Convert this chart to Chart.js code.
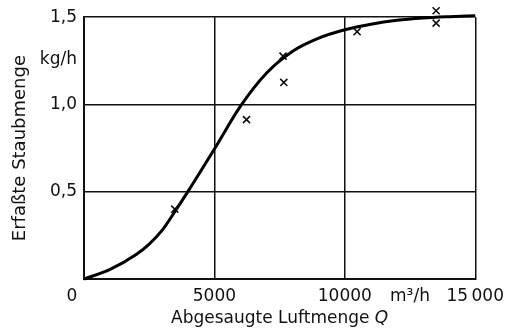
<!DOCTYPE html>
<html lang="de">
<head>
<meta charset="UTF-8">
<title>Erfaßte Staubmenge</title>
<script src="https://cdn.jsdelivr.net/npm/chart.js"></script>
<style>
  body { margin: 0; background: #fff; }
  #wrap { width: 511px; height: 330px; position: relative; }
</style>
</head>
<body>
<div id="wrap"><canvas id="chart"></canvas></div>
<script>
  // fitted curve
  const curveQ = [0, 1000, 2000, 2500, 3000, 3500, 4000, 5000, 6000, 7000, 8000, 9000, 10000, 11000, 12000, 13000, 14000, 15000];
  const curveY = [0, 0.055, 0.14, 0.2, 0.28, 0.39, 0.505, 0.745, 0.99, 1.18, 1.305, 1.38, 1.428, 1.46, 1.482, 1.495, 1.503, 1.509];
  // measured points (x)
  const measQ = [3480, 6230, 7630, 7660, 10470, 13500, 13500];
  const measY = [0.40, 0.913, 1.277, 1.126, 1.417, 1.537, 1.466];
  const xTicks = [0, 5000, 10000, 15000];
  const xTickLabels = ['', '5000', '10000', '15\u2009000'];
  const yTicks = [0, 0.5, 1.0, 1.5];
  const yTickLabels = ['', '0,5', '1,0', '1,5'];

  const FONT = 'DejaVu Sans';
  const FS = 17;

  const extraText = {
    id: 'extraText',
    afterDraw(chart) {
      const c = chart.ctx, a = chart.chartArea;
      const f = FS + 'px "' + FONT + '"';
      c.save();
      c.fillStyle = '#111';
      c.font = f;
      c.textBaseline = 'middle';
      c.textAlign = 'right';
      c.fillText('kg/h', a.left - 7, 60);
      c.textAlign = 'center';
      c.fillText('0', a.left - 12, a.bottom + 18);
      c.fillText('m\u00b3/h', 410, a.bottom + 18);
      // x title with italic Q
      const t1 = 'Abgesaugte Luftmenge ';
      const w1 = c.measureText(t1).width;
      c.font = 'italic ' + f;
      const w2 = c.measureText('Q').width;
      const x0 = (a.left + a.right) / 2 - (w1 + w2) / 2;
      c.textAlign = 'left';
      c.font = f;
      c.fillText(t1, x0, 319);
      c.font = 'italic ' + f;
      c.fillText('Q', x0 + w1, 319);
      c.restore();
    }
  };

  new Chart(document.getElementById('chart'), {
    type: 'scatter',
    data: {
      datasets: [
        {
          type: 'line',
          data: curveQ.map((q, i) => ({ x: q, y: curveY[i] })),
          borderColor: '#000',
          borderWidth: 3,
          pointRadius: 0,
          cubicInterpolationMode: 'monotone',
          fill: false,
          clip: false
        },
        {
          data: measQ.map((q, i) => ({ x: q, y: measY[i] })),
          pointStyle: 'crossRot',
          pointRadius: 5,
          borderColor: '#111',
          borderWidth: 1.6,
          clip: false
        }
      ]
    },
    options: {
      responsive: true,
      maintainAspectRatio: false,
      animation: false,
      layout: { padding: { left: 0, right: 35, top: 14, bottom: 0 } },
      plugins: { legend: { display: false }, tooltip: { enabled: false } },
      scales: {
        x: {
          type: 'linear',
          min: 0, max: 15000,
          afterBuildTicks: s => { s.ticks = xTicks.map(v => ({ value: v })); },
          afterFit: s => { s.height = 51; },
          ticks: {
            color: '#111',
            font: { family: FONT, size: FS },
            padding: 7,
            maxRotation: 0,
            callback: v => xTickLabels[xTicks.indexOf(v)]
          },
          grid: { color: '#111', lineWidth: 1.5, drawTicks: false },
          border: { color: '#111', width: 2 }
        },
        y: {
          type: 'linear',
          min: 0, max: 1.5,
          afterBuildTicks: s => { s.ticks = yTicks.map(v => ({ value: v })); },
          afterFit: s => { s.width = 84; },
          ticks: {
            color: '#111',
            font: { family: FONT, size: FS },
            padding: 7,
            callback: v => yTickLabels[yTicks.indexOf(v)]
          },
          grid: { color: '#111', lineWidth: 1.5, drawTicks: false },
          border: { color: '#111', width: 2 },
          title: {
            display: true,
            text: 'Erfaßte Staubmenge',
            color: '#111',
            font: { family: FONT, size: FS + 1 },
            padding: { top: 10, bottom: 0 }
          }
        }
      }
    },
    plugins: [extraText]
  });
</script>
</body>
</html>
